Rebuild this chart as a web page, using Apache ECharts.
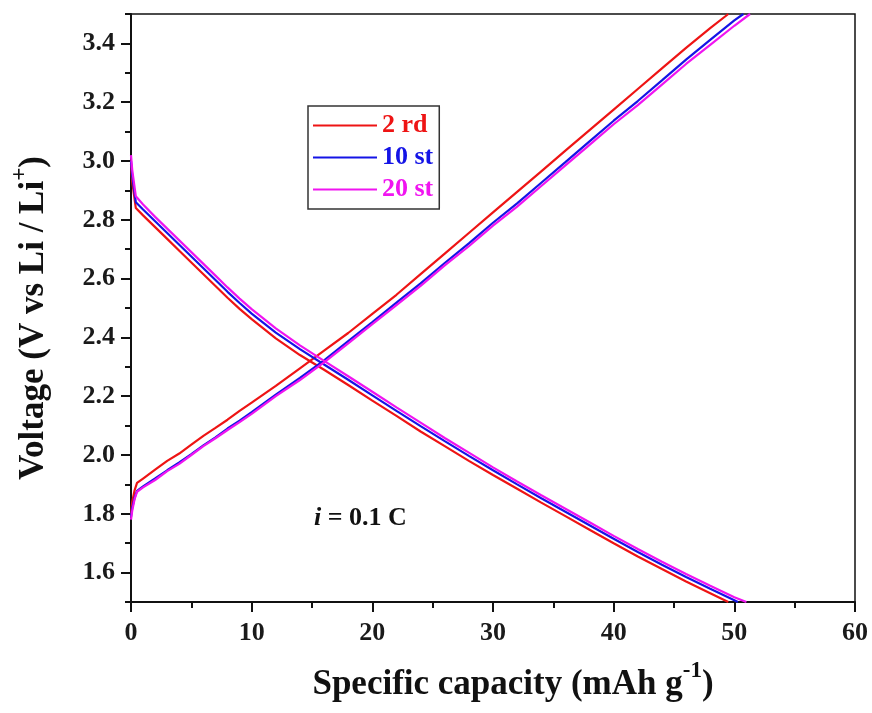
<!DOCTYPE html>
<html>
<head>
<meta charset="utf-8">
<style>
  html, body { margin: 0; padding: 0; background: #fff; }
  #chart { width: 872px; height: 713px; }
</style>
<script src="https://cdn.jsdelivr.net/npm/echarts@6/dist/echarts.min.js"></script>
</head>
<body>
<div id="chart"></div>
<script>
// capacity (mAh/g), voltage (V) pairs
const discharge2rd = [
  [0, 2.99], [0.1, 2.93], [0.4, 2.84], [1, 2.815], [2, 2.775], [3, 2.735],
  [4, 2.695], [5, 2.655], [6, 2.615], [7, 2.575], [8, 2.535], [9, 2.497],
  [10, 2.462], [12, 2.397], [14, 2.34], [16, 2.29], [18, 2.238], [20, 2.185],
  [22, 2.133], [24, 2.08], [26, 2.03], [28, 1.98], [30, 1.932], [32, 1.885],
  [34, 1.838], [36, 1.792], [38, 1.746], [40, 1.70], [42, 1.655], [44, 1.612],
  [46, 1.57], [48, 1.53], [49.5, 1.5],
];
const charge2rd = [
  [0, 1.80], [0.1, 1.84], [0.3, 1.88], [0.5, 1.905], [1, 1.92], [2, 1.95],
  [3, 1.98], [4, 2.005], [5, 2.035], [6, 2.065], [7, 2.092], [8, 2.12],
  [9, 2.15], [10, 2.178], [12, 2.235], [14, 2.295], [16, 2.355], [18, 2.415],
  [20, 2.48], [22, 2.545], [24, 2.615], [26, 2.685], [28, 2.755], [30, 2.825],
  [32, 2.895], [34, 2.965], [36, 3.035], [38, 3.105], [40, 3.175], [42, 3.245],
  [44, 3.315], [46, 3.385], [48, 3.452], [49.5, 3.5],
];
const discharge10st = [
  [0, 3.0], [0.1, 2.95], [0.4, 2.86], [1, 2.835], [2, 2.795], [3, 2.755],
  [4, 2.715], [5, 2.675], [6, 2.635], [7, 2.595], [8, 2.555], [9, 2.517],
  [10, 2.481], [12, 2.416], [14, 2.36], [16, 2.308], [18, 2.256], [20, 2.203],
  [22, 2.15], [24, 2.098], [26, 2.047], [28, 1.997], [30, 1.948], [32, 1.9],
  [34, 1.853], [36, 1.807], [38, 1.761], [40, 1.715], [42, 1.67], [44, 1.627],
  [46, 1.585], [48, 1.545], [50, 1.506], [50.3, 1.5],
];
const charge10st = [
  [0, 1.79], [0.1, 1.82], [0.3, 1.855], [0.5, 1.878], [1, 1.893], [2, 1.92],
  [3, 1.948], [4, 1.975], [5, 2.003], [6, 2.033], [7, 2.06], [8, 2.09],
  [9, 2.117], [10, 2.146], [12, 2.205], [14, 2.262], [16, 2.322], [18, 2.387],
  [20, 2.452], [22, 2.518], [24, 2.584], [26, 2.653], [28, 2.72], [30, 2.79],
  [32, 2.856], [34, 2.926], [36, 2.996], [38, 3.067], [40, 3.137], [42, 3.204],
  [44, 3.274], [46, 3.345], [48, 3.412], [50, 3.478], [50.75, 3.5],
];
const discharge20st = [
  [0, 3.02], [0.1, 2.97], [0.4, 2.88], [1, 2.852], [2, 2.81], [3, 2.77],
  [4, 2.73], [5, 2.69], [6, 2.65], [7, 2.61], [8, 2.57], [9, 2.532],
  [10, 2.496], [12, 2.431], [14, 2.373], [16, 2.32], [18, 2.268], [20, 2.215],
  [22, 2.162], [24, 2.11], [26, 2.058], [28, 2.008], [30, 1.958], [32, 1.91],
  [34, 1.863], [36, 1.817], [38, 1.771], [40, 1.725], [42, 1.68], [44, 1.637],
  [46, 1.595], [48, 1.555], [50, 1.516], [51, 1.5],
];
const charge20st = [
  [0, 1.78], [0.1, 1.81], [0.3, 1.85], [0.5, 1.875], [1, 1.89], [2, 1.915],
  [3, 1.945], [4, 1.97], [5, 2.0], [6, 2.03], [7, 2.057], [8, 2.085],
  [9, 2.112], [10, 2.14], [12, 2.2], [14, 2.255], [16, 2.315], [18, 2.38],
  [20, 2.445], [22, 2.51], [24, 2.575], [26, 2.645], [28, 2.71], [30, 2.78],
  [32, 2.845], [34, 2.915], [36, 2.985], [38, 3.055], [40, 3.125], [42, 3.19],
  [44, 3.26], [46, 3.33], [48, 3.395], [50, 3.46], [51.3, 3.5],
];

const cycleNames = ["2 rd", "10 st", "20 st"];
const cycleColors = ["#ee1414", "#1414e6", "#f014f0"];
const voltageTicks = [1.6, 1.8, 2.0, 2.2, 2.4, 2.6, 2.8, 3.0, 3.2, 3.4];
const voltageMinorTicks = [1.5, 1.7, 1.9, 2.1, 2.3, 2.5, 2.7, 2.9, 3.1, 3.3, 3.5];

const serif = "'Times New Roman', 'Liberation Serif', serif";

const curves = [
  [discharge2rd, charge2rd],
  [discharge10st, charge10st],
  [discharge20st, charge20st],
];

const series = [];
curves.forEach((pair, i) => {
  pair.forEach((data) => {
    series.push({
      name: cycleNames[i],
      type: "line",
      data,
      showSymbol: false,
      symbol: "none",
      color: cycleColors[i],
      lineStyle: { width: 2.2, color: cycleColors[i] },
      z: 2 + i,
    });
  });
});

const nameRich = {
  a: { fontFamily: serif, fontWeight: "bold", fontSize: 35, color: "#111", lineHeight: 42, verticalAlign: "bottom" },
  s: { fontFamily: serif, fontWeight: "bold", fontSize: 23, color: "#111", lineHeight: 42, verticalAlign: "top" },
};

const chart = echarts.init(document.getElementById("chart"));

chart.setOption({
  animation: false,
  backgroundColor: "#fff",
  grid: {
    left: 131,
    right: 17,
    top: 14,
    bottom: 111,
    show: true,
    borderColor: "#111",
    borderWidth: 1.5,
    backgroundColor: "transparent",
  },
  legend: {
    left: 308,
    top: 106,
    orient: "vertical",
    itemWidth: 64,
    itemHeight: 2,
    itemGap: 3,
    padding: [5, 6, 5, 5],
    borderColor: "#333",
    borderWidth: 1.5,
    backgroundColor: "#fff",
    textStyle: {
      fontFamily: serif,
      fontWeight: "bold",
      fontSize: 26,
      lineHeight: 29,
    },
    data: cycleNames.map((name, i) => ({
      name,
      icon: "rect",
      itemStyle: { color: cycleColors[i] },
      textStyle: { color: cycleColors[i] },
    })),
  },
  xAxis: {
    type: "value",
    min: 0,
    max: 60,
    interval: 10,
    name: "{a|Specific capacity (mAh g}{s|-1}{a|)}",
    nameLocation: "middle",
    nameGap: 58,
    nameTextStyle: { rich: nameRich, padding: [0, 0, 0, 40] },
    axisLine: { lineStyle: { color: "#111", width: 2 } },
    axisTick: { length: 10, lineStyle: { color: "#111", width: 2 } },
    minorTick: { show: true, splitNumber: 2, length: 6, lineStyle: { color: "#111", width: 2 } },
    splitLine: { show: false },
    axisLabel: {
      margin: 18,
      fontFamily: serif,
      fontWeight: "bold",
      fontSize: 26,
      color: "#1a1a1a",
    },
  },
  yAxis: [
    {
      type: "value",
      min: 1.5,
      max: 3.5,
      name: "{a|Voltage (V vs Li / Li}{s|+}{a|)}",
      nameLocation: "middle",
      nameRotate: 90,
      nameGap: 80,
      nameTextStyle: { rich: nameRich, padding: [0, 20, 0, 0] },
      axisLine: { lineStyle: { color: "#111", width: 2 } },
      axisTick: { length: 10, customValues: voltageTicks, lineStyle: { color: "#111", width: 2 } },
      splitLine: { show: false },
      axisLabel: {
        customValues: voltageTicks,
        margin: 16,
        formatter: (v) => Number(v).toFixed(1),
        fontFamily: serif,
        fontWeight: "bold",
        fontSize: 26,
        color: "#1a1a1a",
      },
    },
    {
      type: "value",
      min: 1.5,
      max: 3.5,
      position: "left",
      axisLine: { show: false },
      axisTick: { show: true, length: 6, customValues: voltageMinorTicks, lineStyle: { color: "#111", width: 2 } },
      axisLabel: { show: false },
      splitLine: { show: false },
    },
  ],
  graphic: [
    {
      type: "text",
      left: 314,
      top: 505,
      style: {
        text: "{i|i}{n| = 0.1 C}",
        rich: {
          i: { fontFamily: serif, fontWeight: "bold", fontStyle: "italic", fontSize: 26, fill: "#111" },
          n: { fontFamily: serif, fontWeight: "bold", fontSize: 26, fill: "#111" },
        },
      },
    },
  ],
  series,
});
</script>
</body>
</html>
